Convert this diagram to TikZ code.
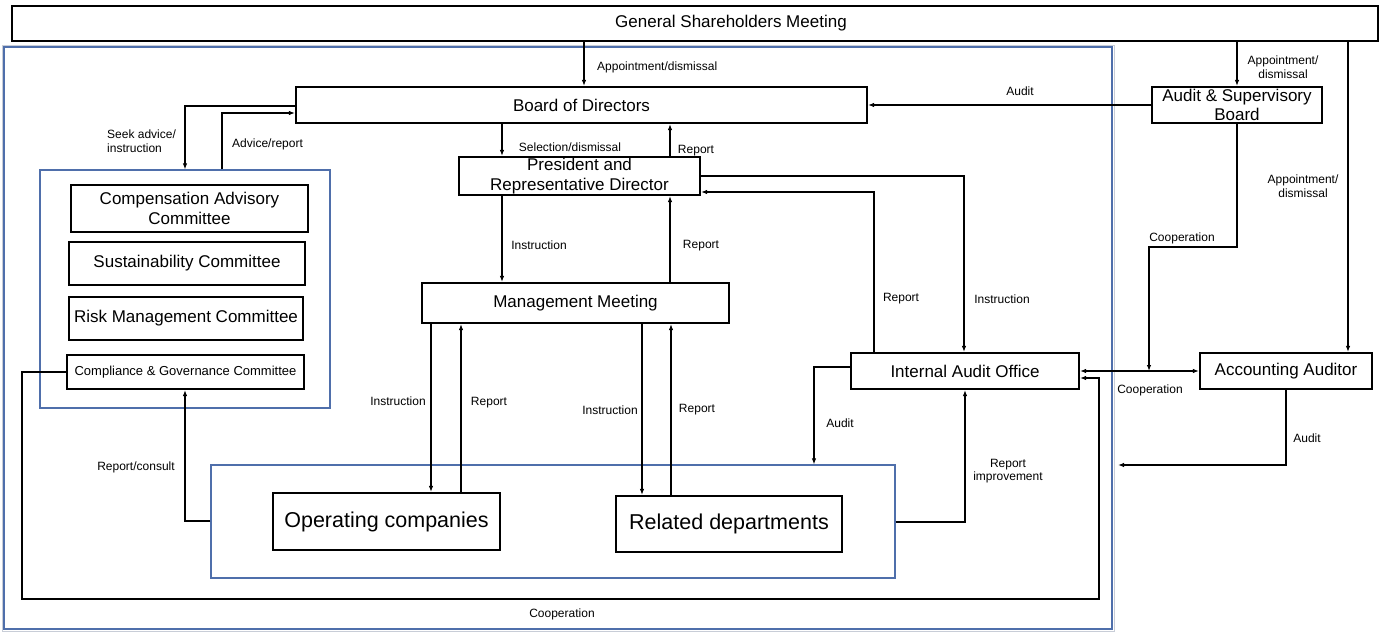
\documentclass[tikz,border=0pt]{standalone}
\usepackage{fontspec}
\setmainfont{Liberation Sans}
\usetikzlibrary{arrows.meta}
\definecolor{frameblue}{RGB}{79,111,171}
\definecolor{frameshade}{RGB}{200,205,215}
\tikzset{
  unitbox/.style={draw=black, line width=2.2pt, inner sep=0pt, align=center,
    font=\fontsize{17}{19.5}\selectfont},
  groupbox/.style={draw=frameblue, line width=1.3pt, inner sep=0pt},
  wire/.style={draw=black, line width=1.1pt},
  link/.style={wire, -{Latex[length=6pt,width=4.5pt]}},
  twolink/.style={wire, {Latex[length=6pt,width=4.5pt]}-{Latex[length=6pt,width=4.5pt]}},
  note/.style={font=\fontsize{12}{13.5}\selectfont, align=center, inner sep=0pt},
}
\begin{document}
\begin{tikzpicture}[x=1pt,y=-1pt]
\useasboundingbox (0,0) rectangle (1385,632);

% frames
\node[draw=frameshade, line width=1pt, inner sep=0pt, minimum width=1112pt, minimum height=586pt] (mainshade) at (558,338) {};
\node[groupbox, line width=1.8pt, minimum width=1108pt, minimum height=582pt] (mainframe) at (558,338) {};
\node[groupbox, minimum width=290pt, minimum height=238pt] (comframe) at (185,289) {};
\node[groupbox, minimum width=684pt, minimum height=113pt] (opframe) at (553,521.5) {};

% organisation units
\node[unitbox, minimum width=1366pt, minimum height=35pt] (gsm) at (695,23.5) {\hspace*{72pt}General Shareholders Meeting};
\node[unitbox, minimum width=571pt, minimum height=36pt] (board) at (581.5,105) {Board of Directors};
\node[unitbox, minimum width=170pt, minimum height=36pt] (asb) at (1237,105) {Audit \& Supervisory\\Board};
\node[unitbox, minimum width=241pt, minimum height=38pt] (pres) at (579.5,176) {President and\\Representative Director};
\node[unitbox, minimum width=307pt, minimum height=40pt] (mm) at (575.5,303) {Management Meeting};
\node[unitbox, minimum width=237pt, minimum height=47pt] (cac) at (189.5,208.5) {Compensation Advisory\\Committee};
\node[unitbox, minimum width=236pt, minimum height=43pt] (sus) at (187,263.5) {Sustainability Committee};
\node[unitbox, minimum width=234pt, minimum height=43pt] (risk) at (186,318.5) {Risk Management Committee};
\node[unitbox, minimum width=237pt, minimum height=34pt, font=\fontsize{13}{15}\selectfont] (cgc) at (185.5,372) {Compliance \& Governance Committee};
\node[unitbox, minimum width=228pt, minimum height=36pt] (iao) at (965,371) {Internal Audit Office};
\node[unitbox, minimum width=172pt, minimum height=36pt] (aa) at (1286,371) {Accounting Auditor};
\node[unitbox, minimum width=227pt, minimum height=57pt, font=\fontsize{21.5}{24}\selectfont] (oc) at (386.5,521.5) {Operating companies};
\node[unitbox, minimum width=226pt, minimum height=56pt, font=\fontsize{21.5}{24}\selectfont] (rd) at (729,524) {Related departments};

\coordinate (auditend) at (1118,465);

% shareholders
\draw[link] (584,0 |- gsm.south) -- (584,0 |- board.north);
\draw[link] (asb.north |- gsm.south) -- (asb.north);
\draw[link] (1348,0 |- gsm.south) -- (1348,0 |- aa.north);

% board level
\draw[link] (asb.west) -- (board.east);
\draw[link] (board.west |- 0,106) -- (185,106) -- (185,0 |- comframe.north);
\draw[link] (222,0 |- comframe.north) -- (222,113) -- (board.west |- 0,113);
\draw[link] (502,0 |- board.south) -- (502,0 |- pres.north);
\draw[link] (670,0 |- pres.north) -- (670,0 |- board.south);

% president and internal audit
\draw[link] (pres.east |- 0,176) -- (964,176) -- (964,0 |- iao.north);
\draw[link] (874,0 |- iao.north) -- (874,192) -- (pres.east |- 0,192);

% management
\draw[link] (502,0 |- pres.south) -- (502,0 |- mm.north);
\draw[link] (670,0 |- mm.north) -- (670,0 |- pres.south);
\draw[link] (431,0 |- mm.south) -- (431,0 |- oc.north);
\draw[link] (461,0 |- oc.north) -- (461,0 |- mm.south);
\draw[link] (642,0 |- mm.south) -- (642,0 |- rd.north);
\draw[link] (671,0 |- rd.north) -- (671,0 |- mm.south);

% committees and operations
\draw[link] (opframe.west |- 0,521) -- (185,521) -- (185,0 |- cgc.south);
\draw[link] (cgc.west) -- (22,372) -- (22,599) -- (1099,599) -- (1099,378) -- (iao.east |- 0,378);
\draw[link] (iao.west |- 0,367) -- (814,367) -- (814,0 |- opframe.north);
\draw[link] (opframe.east |- 0,522) -- (965,522) -- (965,0 |- iao.south);

% external auditors
\draw[twolink] (iao.east |- 0,371) -- (aa.west);
\draw[link] (asb.south) -- (1237,247) -- (1149,247) -- (1149,371);
\draw[link] (aa.south) -- (1286,465) -- (auditend);

% labels
\node[note, anchor=west] (l1) at (597,67) {Appointment/dismissal};
\node[note] (l2) at (1283,67) {Appointment/\\dismissal};
\node[note] (l3) at (1303,186) {Appointment/\\dismissal};
\node[note] (l4) at (1020,91) {Audit};
\node[note, anchor=west, align=left] (l5) at (107,141) {Seek advice/\\instruction};
\node[note, anchor=west] (l6) at (232,144) {Advice/report};
\node[note] (l7) at (570,147) {Selection/dismissal};
\node[note] (l8) at (696,151) {Report};
\node[note] (l9) at (539,245) {Instruction};
\node[note] (l10) at (701,246) {Report};
\node[note] (l11) at (901,299) {Report};
\node[note] (l12) at (1002,299) {Instruction};
\node[note] (l13) at (1182,238) {Cooperation};
\node[note] (l14) at (398,401) {Instruction};
\node[note] (l15) at (489,403) {Report};
\node[note] (l16) at (610,410) {Instruction};
\node[note] (l17) at (697,410) {Report};
\node[note] (l18) at (840,423) {Audit};
\node[note] (l19) at (1008,471) {Report\\improvement};
\node[note] (l20) at (1150,390) {Cooperation};
\node[note] (l21) at (1307,438) {Audit};
\node[note] (l22) at (136,467) {Report/consult};
\node[note] (l23) at (562,614) {Cooperation};
\end{tikzpicture}
\end{document}
